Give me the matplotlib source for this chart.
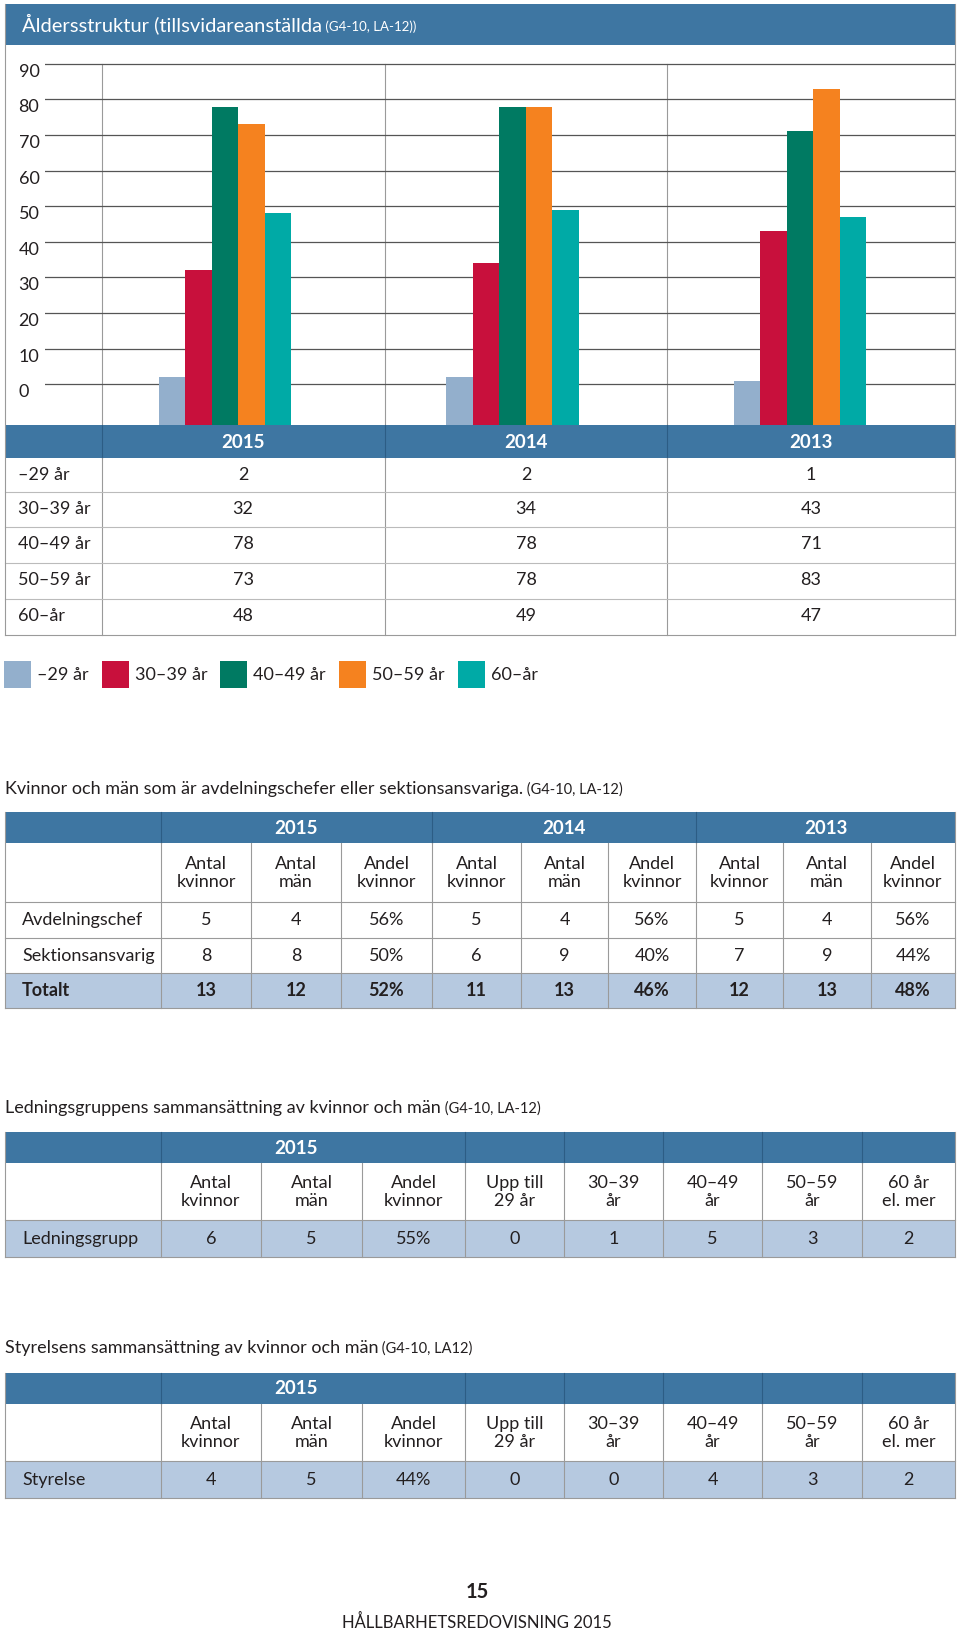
import matplotlib.pyplot as plt
from matplotlib.patches import Rectangle

plt.rcParams['font.family'] = ['Lato', 'DejaVu Sans']

# Data
age_groups = ['–29 år', '30–39 år', '40–49 år', '50–59 år', '60–år']
years = ['2015', '2014', '2013']
age_2015 = [2, 32, 78, 73, 48]
age_2014 = [2, 34, 78, 78, 49]
age_2013 = [1, 43, 71, 83, 47]
age_colors = ['#93afcc', '#c8103c', '#007a62', '#f5821f', '#00aaa6']
y_ticks = [0, 10, 20, 30, 40, 50, 60, 70, 80, 90]

roles = ['Avdelningschef', 'Sektionsansvarig', 'Totalt']
women_2015 = [5, 8, 13]
men_2015 = [4, 8, 12]
share_2015 = ['56%', '50%', '52%']
women_2014 = [5, 6, 11]
men_2014 = [4, 9, 13]
share_2014 = ['56%', '40%', '46%']
women_2013 = [5, 7, 12]
men_2013 = [4, 9, 13]
share_2013 = ['56%', '44%', '48%']

sub_headers = ['Antal\nkvinnor', 'Antal\nmän', 'Andel\nkvinnor']
comp_headers = ['Antal\nkvinnor', 'Antal\nmän', 'Andel\nkvinnor', 'Upp till\n29 år',
                '30–39\når', '40–49\når', '50–59\når', '60 år\nel. mer']
ledning = [6, 5, '55%', 0, 1, 5, 3, 2]
styrelse = [4, 5, '44%', 0, 0, 4, 3, 2]

BLUE = '#3e76a2'
DARKBLUE = '#2c5d85'
LIGHT = '#b6c9e0'
GREY = '#9a9a9a'
TXT = '#231f20'
FS = 13

fig = plt.figure(figsize=(9.6, 16.32), dpi=100)
bg = fig.add_axes([0, 0, 1, 1])
bg.set_xlim(0, 960)
bg.set_ylim(1632, 0)
bg.axis('off')
renderer = fig.canvas.get_renderer()


def rect(x0, y0, x1, y1, color):
    bg.add_patch(Rectangle((x0, y0), x1 - x0, y1 - y0, color=color, lw=0))


def hline(y, x0=5, x1=955, color=GREY, lw=0.8):
    bg.plot([x0, x1], [y, y], color=color, lw=lw)


def vline(x, y0, y1, color=GREY, lw=0.8):
    bg.plot([x, x], [y0, y1], color=color, lw=lw)


def txt(x, y, s, size=FS, ha='center', **kw):
    kw.setdefault('color', TXT)
    return bg.text(x, y, s, fontsize=size, ha=ha, va='center', **kw)


def run(x, y, parts, color=TXT):
    # consecutive text pieces of different sizes on one baseline
    for s, size in parts:
        t = bg.text(x, y, s, fontsize=size, ha='left', va='baseline', color=color)
        x += t.get_window_extent(renderer).width


# ---- Age structure chart ----
rect(5, 4, 955, 45, BLUE)
run(22, 31, [('Åldersstruktur (tillsvidareanställda', 14.5), (' (G4-10, LA-12))', 9.5)], color='white')

ymin, ymax = -11.5, 95.3
ax = fig.add_axes([45 / 960, 1 - 425 / 1632, 910 / 960, 380 / 1632])
ax.set_facecolor('none')
w = 0.092
for g, vals in enumerate([age_2015, age_2014, age_2013]):
    for i, v in enumerate(vals):
        ax.bar(g + (i - 2) * w, v - ymin, bottom=ymin, width=w, color=age_colors[i], zorder=3)
ax.set_xlim(-0.626, 2.539)
ax.set_ylim(ymin, ymax)
ax.set_yticks(y_ticks)
ax.yaxis.grid(True, color='#555555', lw=0.9)
ax.set_axisbelow(True)
ax.set_xticks([])
ax.tick_params(axis='y', length=0, pad=19, labelsize=FS, labelcolor=TXT)
for lab in ax.get_yticklabels():
    lab.set_horizontalalignment('left')
    lab.set_verticalalignment('top')
for s in ax.spines.values():
    s.set_visible(False)

# table under chart
col_x = [102, 385, 667, 955]
col_c = [243, 526, 811]
rect(5, 425, 955, 458, BLUE)
for x in col_x[:3]:
    vline(x, 64, 425)
    vline(x, 425, 458, color=DARKBLUE)
    vline(x, 458, 635)
for c, yr in zip(col_c, years):
    txt(c, 442, yr, size=13.5, color='white', weight='bold')
row_top = [458, 492, 527, 563, 599]
for r, lab in enumerate(age_groups):
    yc = row_top[r] + 17
    txt(18, yc, lab, ha='left')
    for c, vals in zip(col_c, [age_2015, age_2014, age_2013]):
        txt(c, yc, str(vals[r]))
    if r > 0:
        hline(row_top[r], color='#bbbbbb')
hline(635)
vline(5, 4, 635)
vline(955, 4, 635)

# legend
lx = 4
for lab, col in zip(age_groups, age_colors):
    rect(lx, 661, lx + 27, 688, col)
    t = txt(lx + 33, 675, lab, ha='left')
    lx = lx + 33 + t.get_window_extent(renderer).width + 13

# ---- Managers table ----
run(5, 794, [('Kvinnor och män som är avdelningschefer eller sektionsansvariga.', 13),
             (' (G4-10, LA-12)', 10.5)])
t2_x = [5, 161, 251, 341, 432, 521, 608, 696, 783, 871, 955]
rect(5, 812, 955, 843, BLUE)
rect(5, 973, 955, 1008, LIGHT)
for x in [161, 432, 696]:
    vline(x, 812, 843, color=DARKBLUE)
for x, yr in zip([296, 564, 826], years):
    txt(x, 828, yr, size=13.5, color='white', weight='bold')
for x in t2_x[1:-1]:
    vline(x, 843, 1008)
for k in range(9):
    txt((t2_x[k + 1] + t2_x[k + 2]) / 2, 873, sub_headers[k % 3], linespacing=1.1)
t2_rows = [902, 938, 973]
cols = [women_2015, men_2015, share_2015, women_2014, men_2014, share_2014,
        women_2013, men_2013, share_2013]
for r, lab in enumerate(roles):
    yc = t2_rows[r] + 18
    wt = 'bold' if lab == 'Totalt' else 'normal'
    txt(22, yc, lab, ha='left', weight=wt)
    for k, vals in enumerate(cols):
        txt((t2_x[k + 1] + t2_x[k + 2]) / 2, yc, str(vals[r]), weight=wt)
    hline(t2_rows[r])
hline(1008)
vline(5, 812, 1008)
vline(955, 812, 1008)

# ---- Composition tables ----
t3_x = [5, 161, 261, 362, 465, 564, 663, 762, 862, 955]


def comp_table(title, code, title_y, top, label, vals):
    run(5, title_y, [(title, 13), (' ' + code, 10.5)])
    rect(5, top, 955, top + 31, BLUE)
    rect(5, top + 88, 955, top + 125, LIGHT)
    for x in [161, 465, 564, 663, 762, 862]:
        vline(x, top, top + 31, color=DARKBLUE)
    txt(296, top + 16, '2015', size=13.5, color='white', weight='bold')
    for x in t3_x[1:-1]:
        vline(x, top + 31, top + 125)
    for k, h in enumerate(comp_headers):
        txt((t3_x[k + 1] + t3_x[k + 2]) / 2, top + 60, h, linespacing=1.1)
    txt(22, top + 107, label, ha='left')
    for k, v in enumerate(vals):
        txt((t3_x[k + 1] + t3_x[k + 2]) / 2, top + 107, str(v))
    hline(top + 88)
    hline(top + 125)
    vline(5, top, top + 125)
    vline(955, top, top + 125)


comp_table('Ledningsgruppens sammansättning av kvinnor och män', '(G4-10, LA-12)',
           1113, 1132, 'Ledningsgrupp', ledning)
comp_table('Styrelsens sammansättning av kvinnor och män', '(G4-10, LA12)',
           1353, 1373, 'Styrelse', styrelse)

# footer
txt(477, 1592, '15', size=14.5, weight='bold')
txt(477, 1622, 'HÅLLBARHETSREDOVISNING 2015', size=12)

fig.savefig('out.png', dpi=100)
